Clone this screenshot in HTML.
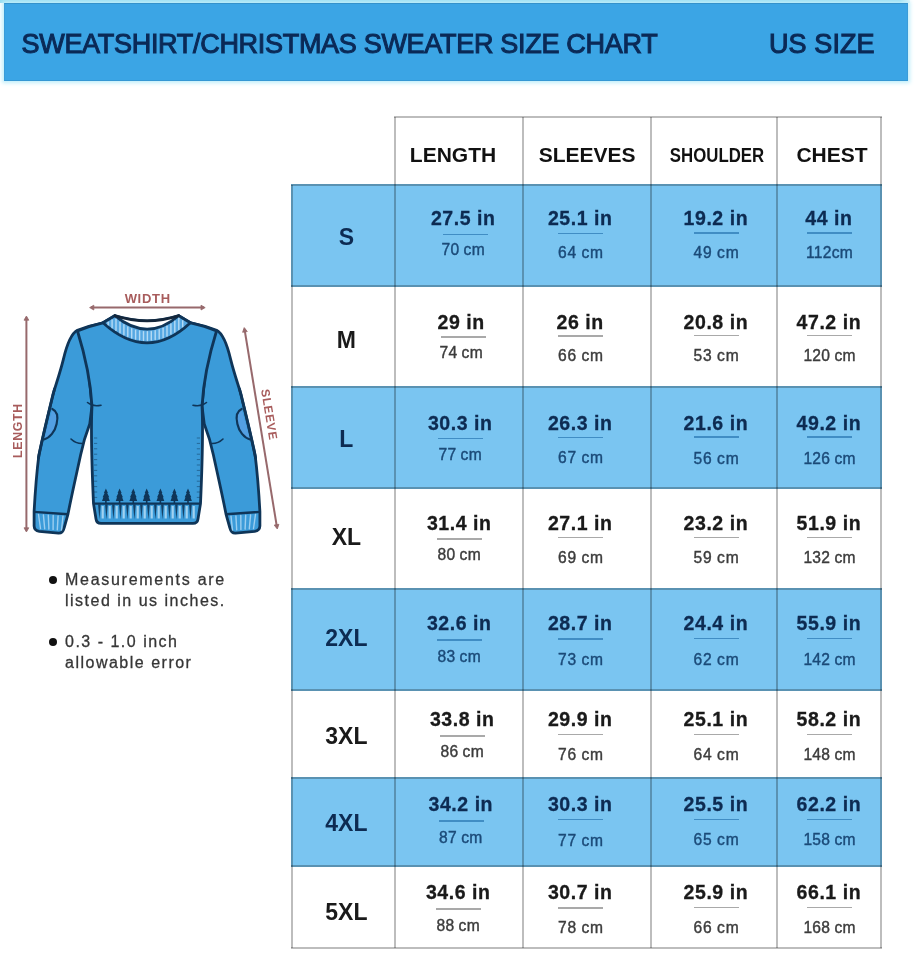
<!DOCTYPE html>
<html lang="en">
<head>
<meta charset="utf-8">
<title>Sweatshirt / Christmas Sweater Size Chart</title>
<style>
html,body{margin:0;padding:0;background:#fff;}
body{width:920px;height:960px;position:relative;overflow:hidden;font-family:"Liberation Sans",Arial,sans-serif;}
.abs{position:absolute;}
#soft{position:absolute;left:0;top:0;width:920px;height:960px;filter:blur(0.45px);}
.hdr{position:absolute;left:4px;top:3px;width:904px;height:78px;box-sizing:border-box;background:#3ba5e5;border-top:1.5px solid #3392cc;border-bottom:1.5px solid #3597d4;border-left:1px solid #3a9cd8;border-right:1px solid #3a9cd8;box-shadow:0 0 4px 2px #bfeefa;}
.topstrip{position:absolute;left:0;top:0;width:910px;height:3px;background:linear-gradient(90deg,#93dcf1 0,#93dcf1 900px,#e4f8fd 910px);}
.title{position:absolute;top:27.5px;height:32px;line-height:32px;font-size:27px;color:#0b2a57;white-space:nowrap;-webkit-text-stroke:1.05px #0b2a57;}
.blue{position:absolute;background:#7ac5f1;}
.vl,.hl{position:absolute;background:rgba(0,0,0,0.26);}
.th{position:absolute;top:141.8px;height:26px;line-height:26px;width:160px;text-align:center;font-weight:bold;font-size:21px;color:#111;white-space:nowrap;}
.sz{position:absolute;width:100px;height:30px;line-height:30px;text-align:center;font-weight:bold;font-size:23px;white-space:nowrap;}
.in{position:absolute;width:120px;height:24px;line-height:24px;text-align:center;font-weight:bold;font-size:19.5px;letter-spacing:0.55px;white-space:nowrap;-webkit-text-stroke:0.3px;}
.cm{position:absolute;width:120px;height:20px;line-height:20px;text-align:center;font-size:15.6px;letter-spacing:0.3px;word-spacing:-0.5px;white-space:nowrap;}
.rule{position:absolute;height:1.5px;width:45px;}
.w{color:#1a1a1a;} .b{color:#0d2b52;}
.cm.w{color:#3c3c3c;-webkit-text-stroke:0.4px #3c3c3c;} .cm.b{color:#1b4a78;-webkit-text-stroke:0.4px #1b4a78;}
.rule.w{background:#a9a9a9;} .rule.b{background:#408dc4;}
.note{position:absolute;left:65px;font-size:16px;letter-spacing:1.5px;color:#363636;-webkit-text-stroke:0.3px #363636;height:20px;line-height:20px;white-space:nowrap;}
.dot{position:absolute;width:8px;height:8px;border-radius:50%;background:#111;}
</style>
</head>
<body>
<div id="soft">
<div class="topstrip"></div>
<div class="hdr"></div>
<div class="title" style="left:21.5px;letter-spacing:-0.3px">SWEATSHIRT/CHRISTMAS SWEATER SIZE CHART</div>
<div class="title" style="left:769px;letter-spacing:0.1px">US SIZE</div>
<div class="blue" style="left:291px;top:184px;width:591px;height:102.5px"></div>
<div class="blue" style="left:291px;top:386px;width:591px;height:102.5px"></div>
<div class="blue" style="left:291px;top:588px;width:591px;height:102.5px"></div>
<div class="blue" style="left:291px;top:777px;width:591px;height:90px"></div>
<div class="hl" style="left:394px;top:115.5px;width:488px;height:2px"></div>
<div class="hl" style="left:291px;top:184px;width:591px;height:2px"></div>
<div class="hl" style="left:291px;top:284.5px;width:591px;height:2px"></div>
<div class="hl" style="left:291px;top:386px;width:591px;height:2px"></div>
<div class="hl" style="left:291px;top:486.5px;width:591px;height:2px"></div>
<div class="hl" style="left:291px;top:588px;width:591px;height:2px"></div>
<div class="hl" style="left:291px;top:688.5px;width:591px;height:2px"></div>
<div class="hl" style="left:291px;top:777px;width:591px;height:2px"></div>
<div class="hl" style="left:291px;top:865px;width:591px;height:2px"></div>
<div class="hl" style="left:291px;top:947px;width:591px;height:2px"></div>
<div class="vl" style="left:291px;top:185px;width:2px;height:763px"></div>
<div class="vl" style="left:394px;top:116.5px;width:2px;height:831.5px"></div>
<div class="vl" style="left:521.5px;top:116.5px;width:2px;height:831.5px"></div>
<div class="vl" style="left:650px;top:116.5px;width:2px;height:831.5px"></div>
<div class="vl" style="left:776px;top:116.5px;width:2px;height:831.5px"></div>
<div class="vl" style="left:880px;top:116.5px;width:2px;height:831.5px"></div>
<div class="th" style="left:373px;">LENGTH</div>
<div class="th" style="left:507.20000000000005px;">SLEEVES</div>
<div class="th" style="left:637.4px;transform:scaleX(0.80);">SHOULDER</div>
<div class="th" style="left:752px;">CHEST</div>
<div class="sz b" style="left:296.4px;top:222.2px">S</div>
<div class="in b" style="left:403.2px;top:205.7px">27.5 in</div>
<div class="rule b" style="left:443.0px;top:233.9px"></div>
<div class="cm b" style="left:403.2px;top:240.0px">70 cm</div>
<div class="in b" style="left:520.2px;top:205.7px">25.1 in</div>
<div class="rule b" style="left:558.0px;top:232.8px"></div>
<div class="cm b" style="left:520.9px;letter-spacing:0.8px;top:242.7px">64 cm</div>
<div class="in b" style="left:655.9px;top:205.7px">19.2 in</div>
<div class="rule b" style="left:693.6px;top:232.4px"></div>
<div class="cm b" style="left:656.5px;letter-spacing:0.8px;top:243.2px">49 cm</div>
<div class="in b" style="left:768.9px;top:205.7px">44 in</div>
<div class="rule b" style="left:806.6px;top:232.4px"></div>
<div class="cm b" style="left:769.6px;top:243.2px">112cm</div>
<div class="sz w" style="left:296.4px;top:324.9px">M</div>
<div class="in w" style="left:401.2px;top:309.7px">29 in</div>
<div class="rule w" style="left:441.0px;top:336.2px"></div>
<div class="cm w" style="left:401.2px;top:343.0px">74 cm</div>
<div class="in w" style="left:520.2px;top:309.7px">26 in</div>
<div class="rule w" style="left:558.0px;top:335.1px"></div>
<div class="cm w" style="left:520.9px;letter-spacing:0.8px;top:345.7px">66 cm</div>
<div class="in w" style="left:655.9px;top:309.7px">20.8 in</div>
<div class="rule w" style="left:693.6px;top:334.8px"></div>
<div class="cm w" style="left:656.5px;letter-spacing:0.8px;top:346.2px">53 cm</div>
<div class="in w" style="left:768.9px;top:309.7px">47.2 in</div>
<div class="rule w" style="left:806.6px;top:334.8px"></div>
<div class="cm w" style="left:769.6px;top:346.2px">120 cm</div>
<div class="sz b" style="left:296.4px;top:423.5px">L</div>
<div class="in b" style="left:400.2px;top:410.8px">30.3 in</div>
<div class="rule b" style="left:438.0px;top:437.8px"></div>
<div class="cm b" style="left:400.2px;top:445.4px">77 cm</div>
<div class="in b" style="left:520.2px;top:410.8px">26.3 in</div>
<div class="rule b" style="left:558.0px;top:436.6px"></div>
<div class="cm b" style="left:520.9px;letter-spacing:0.8px;top:448.1px">67 cm</div>
<div class="in b" style="left:655.9px;top:410.8px">21.6 in</div>
<div class="rule b" style="left:693.6px;top:436.2px"></div>
<div class="cm b" style="left:656.5px;letter-spacing:0.8px;top:448.6px">56 cm</div>
<div class="in b" style="left:768.9px;top:410.8px">49.2 in</div>
<div class="rule b" style="left:806.6px;top:436.2px"></div>
<div class="cm b" style="left:769.6px;top:448.6px">126 cm</div>
<div class="sz w" style="left:296.4px;top:522.0px">XL</div>
<div class="in w" style="left:399.2px;top:510.7px">31.4 in</div>
<div class="rule w" style="left:437.0px;top:538.0px"></div>
<div class="cm w" style="left:399.2px;top:545.0px">80 cm</div>
<div class="in w" style="left:520.2px;top:510.7px">27.1 in</div>
<div class="rule w" style="left:558.0px;top:536.8px"></div>
<div class="cm w" style="left:520.9px;letter-spacing:0.8px;top:547.7px">69 cm</div>
<div class="in w" style="left:655.9px;top:510.7px">23.2 in</div>
<div class="rule w" style="left:693.6px;top:536.5px"></div>
<div class="cm w" style="left:656.5px;letter-spacing:0.8px;top:548.2px">59 cm</div>
<div class="in w" style="left:768.9px;top:510.7px">51.9 in</div>
<div class="rule w" style="left:806.6px;top:536.5px"></div>
<div class="cm w" style="left:769.6px;top:548.2px">132 cm</div>
<div class="sz b" style="left:296.4px;top:623.0px">2XL</div>
<div class="in b" style="left:399.2px;top:611.4px">32.6 in</div>
<div class="rule b" style="left:437.0px;top:639.2px"></div>
<div class="cm b" style="left:399.2px;top:646.8px">83 cm</div>
<div class="in b" style="left:520.2px;top:611.4px">28.7 in</div>
<div class="rule b" style="left:558.0px;top:638.0px"></div>
<div class="cm b" style="left:520.9px;letter-spacing:0.8px;top:649.5px">73 cm</div>
<div class="in b" style="left:655.9px;top:611.4px">24.4 in</div>
<div class="rule b" style="left:693.6px;top:637.8px"></div>
<div class="cm b" style="left:656.5px;letter-spacing:0.8px;top:650.0px">62 cm</div>
<div class="in b" style="left:768.9px;top:611.4px">55.9 in</div>
<div class="rule b" style="left:806.6px;top:637.8px"></div>
<div class="cm b" style="left:769.6px;top:650.0px">142 cm</div>
<div class="sz w" style="left:296.4px;top:720.6px">3XL</div>
<div class="in w" style="left:402.2px;top:707.3px">33.8 in</div>
<div class="rule w" style="left:440.0px;top:735.0px"></div>
<div class="cm w" style="left:402.2px;top:742.0px">86 cm</div>
<div class="in w" style="left:520.2px;top:707.3px">29.9 in</div>
<div class="rule w" style="left:558.0px;top:733.8px"></div>
<div class="cm w" style="left:520.9px;letter-spacing:0.8px;top:744.7px">76 cm</div>
<div class="in w" style="left:655.9px;top:707.3px">25.1 in</div>
<div class="rule w" style="left:693.6px;top:733.5px"></div>
<div class="cm w" style="left:656.5px;letter-spacing:0.8px;top:745.2px">64 cm</div>
<div class="in w" style="left:768.9px;top:707.3px">58.2 in</div>
<div class="rule w" style="left:806.6px;top:733.5px"></div>
<div class="cm w" style="left:769.6px;top:745.2px">148 cm</div>
<div class="sz b" style="left:296.4px;top:807.5px">4XL</div>
<div class="in b" style="left:400.8px;top:792.4px">34.2 in</div>
<div class="rule b" style="left:438.5px;top:820.0px"></div>
<div class="cm b" style="left:400.8px;top:828.0px">87 cm</div>
<div class="in b" style="left:520.2px;top:792.4px">30.3 in</div>
<div class="rule b" style="left:558.0px;top:818.8px"></div>
<div class="cm b" style="left:520.9px;letter-spacing:0.8px;top:830.7px">77 cm</div>
<div class="in b" style="left:655.9px;top:792.4px">25.5 in</div>
<div class="rule b" style="left:693.6px;top:818.5px"></div>
<div class="cm b" style="left:656.5px;letter-spacing:0.8px;top:830.0px">65 cm</div>
<div class="in b" style="left:768.9px;top:792.4px">62.2 in</div>
<div class="rule b" style="left:806.6px;top:818.5px"></div>
<div class="cm b" style="left:769.6px;top:830.0px">158 cm</div>
<div class="sz w" style="left:296.4px;top:896.5px">5XL</div>
<div class="in w" style="left:398.2px;top:880.0px">34.6 in</div>
<div class="rule w" style="left:436.0px;top:908.2px"></div>
<div class="cm w" style="left:398.2px;top:915.5px">88 cm</div>
<div class="in w" style="left:520.2px;top:880.0px">30.7 in</div>
<div class="rule w" style="left:558.0px;top:907.0px"></div>
<div class="cm w" style="left:520.9px;letter-spacing:0.8px;top:918.2px">78 cm</div>
<div class="in w" style="left:655.9px;top:880.0px">25.9 in</div>
<div class="rule w" style="left:693.6px;top:906.8px"></div>
<div class="cm w" style="left:656.5px;letter-spacing:0.8px;top:917.5px">66 cm</div>
<div class="in w" style="left:768.9px;top:880.0px">66.1 in</div>
<div class="rule w" style="left:806.6px;top:906.8px"></div>
<div class="cm w" style="left:769.6px;top:917.5px">168 cm</div>
<div class="dot" style="left:49.4px;top:575.7px"></div>
<div class="note" style="top:570px;letter-spacing:1.72px">Measurements are</div>
<div class="note" style="top:590.7px">listed in us inches.</div>
<div class="dot" style="left:49.4px;top:637.7px"></div>
<div class="note" style="top:632.2px">0.3 - 1.0 inch</div>
<div class="note" style="top:652.8px">allowable error</div>
<svg class="abs" style="left:0px;top:280px" width="290" height="270" viewBox="0 280 290 270">
<g stroke="#97696c" stroke-width="2" fill="none" stroke-linecap="butt">
<path d="M91,307.6 H204"/>
<path d="M244.5,329 L277,527.5"/>
<path d="M26.4,317.5 V530.5"/>
</g>
<g fill="#97696c" stroke="#97696c" stroke-width="0.8" stroke-linejoin="round">
<path d="M89.6,307.6 L93.8,305.2 L93.8,310 Z"/><path d="M205.2,307.6 L201,305.2 L201,310 Z"/>
<path d="M26.4,316 L24,320.2 L28.8,320.2 Z"/><path d="M26.4,532 L24,527.8 L28.8,527.8 Z"/>
<path d="M244.2,327.6 L242.6,332.3 L247.3,331.5 Z"/><path d="M277.3,529 L274.2,525.1 L278.9,524.3 Z"/>
</g>
<g font-family="Liberation Sans, Arial, sans-serif" font-weight="bold" font-size="13" fill="#a85c5c" text-anchor="middle" letter-spacing="0.7">
<text x="147.7" y="303.3">WIDTH</text>
<text transform="translate(22.4,430.6) rotate(-90)" font-size="12.3">LENGTH</text>
<text transform="translate(265.2,415.3) rotate(80.7)" font-size="12">SLEEVE</text>
</g>
<g fill="#3b9bd9" stroke="#0f3558" stroke-width="2.8" stroke-linejoin="round" stroke-linecap="round">
<path d="M104,322.6 Q90,325.5 77.4,330.2 C70,334 66,348 63.3,359.6 C60,373 56,384 52.8,395 C48,415 42.5,437 38.9,455 C36.5,474 35,495 34.1,511.7 L34.1,526 Q34.3,530.6 39.3,531.3 L58.5,533.2 Q62.8,533.4 64.1,528 L68,514 C71.5,496 76.5,474 80.6,455 C82,448 84.1,438.5 89.8,423.7 L92,406 L88,365 L80,331 Z"/>
<path d="M 190.0,322.6 Q 204.0,325.5 216.6,330.2 C 224.0,334 228.0,348 230.7,359.6 C 234.0,373 238.0,384 241.2,395 C 246.0,415 251.5,437 255.1,455 C 257.5,474 259.0,495 259.9,511.7 L 259.9,526 Q 259.7,530.6 254.7,531.3 L 235.5,533.2 Q 231.2,533.4 229.9,528 L 226.0,514 C 222.5,496 217.5,474 213.4,455 C 212.0,448 209.9,438.5 204.2,423.7 L 202.0,406 L 206.0,365 L 214.0,331 Z"/>
<path d="M103,322.8 L114.8,315.7 Q147.4,326 178.7,315.7 L190.4,322.8 Q205,326 216.5,331 C210,352 203.5,380 202,406 C203,425 202,470 200.5,503.5 L198,519 Q197.4,523.3 193,523.4 L101,523.4 Q96.6,523.3 96,519 L93.5,503.5 C92,470 91,425 92,406 C90.5,380 84,352 77.5,331 Q89,326 103,322.8 Z"/>
</g>
<g fill="#539fe2" stroke="#0f3558" stroke-width="2.2" stroke-linecap="round">
<path d="M52.3,409 C58,411.5 57.8,419 56.6,424 C55,431.5 50,437.8 43.9,439.5"/>
<path d="M 241.7,409 C 236.0,411.5 236.2,419 237.4,424 C 239.0,431.5 244.0,437.8 250.1,439.5"/>
</g>
<g fill="none" stroke="#0f3558" stroke-width="2.8" stroke-linecap="round">
<path d="M54.5,389 C49,411 43,436 38.4,458"/>
<path d="M 239.5,389 C 245.0,411 251.0,436 255.6,458"/>
</g>
<g fill="none" stroke="#0f3558" stroke-width="1.6" stroke-linecap="round">
<path d="M87.5,402.5 Q93,407 101,405.2"/><path d="M 206.5,402.5 Q 201.0,407 193.0,405.2"/>
<path d="M71,439 Q75.5,443.5 82,443.5"/><path d="M 223.0,439 Q 218.5,443.5 212.0,443.5"/>
</g>
<g stroke="#0f3558" stroke-width="0.9" opacity="0.55">
<path d="M94,438.0 h3.2 M200,438.0 h-3.2"/>
<path d="M94,443.4 h3.2 M200,443.4 h-3.2"/>
<path d="M94,448.8 h3.2 M200,448.8 h-3.2"/>
<path d="M94,454.2 h3.2 M200,454.2 h-3.2"/>
<path d="M94,459.6 h3.2 M200,459.6 h-3.2"/>
<path d="M94,465.0 h3.2 M200,465.0 h-3.2"/>
<path d="M94,470.4 h3.2 M200,470.4 h-3.2"/>
<path d="M94,475.8 h3.2 M200,475.8 h-3.2"/>
<path d="M94,481.2 h3.2 M200,481.2 h-3.2"/>
<path d="M94,486.6 h3.2 M200,486.6 h-3.2"/>
<path d="M94,492.0 h3.2 M200,492.0 h-3.2"/>
<path d="M94,497.4 h3.2 M200,497.4 h-3.2"/>
</g>
<path d="M116,316.3 Q147.4,326 177.5,316.3 Q147.4,342 116,316.3 Z" fill="#ffffff"/>
<path d="M103,322.8 L114.8,315.7 Q147.4,342.5 178.7,315.7 L190.4,322.8 Q147.4,363 103,322.8 Z" fill="#56a8e2" stroke="#0f3558" stroke-width="2.8" stroke-linejoin="round"/>
<g stroke="#bfe0f7" stroke-width="1.4" stroke-linecap="round" opacity="0.9">
<path d="M108.2,322.3 V324.7"/>
<path d="M112.1,319.9 V327.7"/>
<path d="M116.0,319.3 V330.4"/>
<path d="M120.0,322.3 V332.8"/>
<path d="M123.9,324.8 V334.8"/>
<path d="M127.8,327.0 V336.5"/>
<path d="M131.7,328.7 V337.9"/>
<path d="M135.6,330.1 V339.0"/>
<path d="M139.6,331.0 V339.8"/>
<path d="M143.5,331.6 V340.2"/>
<path d="M147.4,331.7 V340.3"/>
<path d="M151.3,331.4 V340.1"/>
<path d="M155.2,330.8 V339.5"/>
<path d="M159.2,329.7 V338.7"/>
<path d="M163.1,328.2 V337.5"/>
<path d="M167.0,326.3 V336.0"/>
<path d="M170.9,324.0 V334.1"/>
<path d="M174.8,321.3 V332.0"/>
<path d="M178.8,318.3 V329.5"/>
<path d="M182.7,320.7 V326.7"/>
</g>
<path d="M114.8,315.7 Q147.4,326 178.7,315.7" fill="none" stroke="#14263a" stroke-width="2.6" stroke-linecap="round"/>
<path d="M93.8,503.6 H200.2" stroke="#0f3558" stroke-width="2.4" fill="none"/>
<g>
<path d="M98.1,504.5 L100.7,504.5 L99.4,519.5 Z" fill="#0f3558" opacity="0.9"/>
<path d="M102.7,506 v12.5" stroke="#b4dcf6" stroke-width="2.2" opacity="0.85"/>
<path d="M105.1,504.5 L107.7,504.5 L106.4,519.5 Z" fill="#0f3558" opacity="0.9"/>
<path d="M109.7,506 v12.5" stroke="#b4dcf6" stroke-width="2.2" opacity="0.85"/>
<path d="M112.1,504.5 L114.7,504.5 L113.4,519.5 Z" fill="#0f3558" opacity="0.9"/>
<path d="M116.7,506 v12.5" stroke="#b4dcf6" stroke-width="2.2" opacity="0.85"/>
<path d="M119.1,504.5 L121.7,504.5 L120.4,519.5 Z" fill="#0f3558" opacity="0.9"/>
<path d="M123.7,506 v12.5" stroke="#b4dcf6" stroke-width="2.2" opacity="0.85"/>
<path d="M126.1,504.5 L128.7,504.5 L127.4,519.5 Z" fill="#0f3558" opacity="0.9"/>
<path d="M130.7,506 v12.5" stroke="#b4dcf6" stroke-width="2.2" opacity="0.85"/>
<path d="M133.1,504.5 L135.7,504.5 L134.4,519.5 Z" fill="#0f3558" opacity="0.9"/>
<path d="M137.7,506 v12.5" stroke="#b4dcf6" stroke-width="2.2" opacity="0.85"/>
<path d="M140.1,504.5 L142.7,504.5 L141.4,519.5 Z" fill="#0f3558" opacity="0.9"/>
<path d="M144.7,506 v12.5" stroke="#b4dcf6" stroke-width="2.2" opacity="0.85"/>
<path d="M147.1,504.5 L149.7,504.5 L148.4,519.5 Z" fill="#0f3558" opacity="0.9"/>
<path d="M151.7,506 v12.5" stroke="#b4dcf6" stroke-width="2.2" opacity="0.85"/>
<path d="M154.1,504.5 L156.7,504.5 L155.4,519.5 Z" fill="#0f3558" opacity="0.9"/>
<path d="M158.7,506 v12.5" stroke="#b4dcf6" stroke-width="2.2" opacity="0.85"/>
<path d="M161.1,504.5 L163.7,504.5 L162.4,519.5 Z" fill="#0f3558" opacity="0.9"/>
<path d="M165.7,506 v12.5" stroke="#b4dcf6" stroke-width="2.2" opacity="0.85"/>
<path d="M168.1,504.5 L170.7,504.5 L169.4,519.5 Z" fill="#0f3558" opacity="0.9"/>
<path d="M172.7,506 v12.5" stroke="#b4dcf6" stroke-width="2.2" opacity="0.85"/>
<path d="M175.1,504.5 L177.7,504.5 L176.4,519.5 Z" fill="#0f3558" opacity="0.9"/>
<path d="M179.7,506 v12.5" stroke="#b4dcf6" stroke-width="2.2" opacity="0.85"/>
<path d="M182.1,504.5 L184.7,504.5 L183.4,519.5 Z" fill="#0f3558" opacity="0.9"/>
<path d="M186.7,506 v12.5" stroke="#b4dcf6" stroke-width="2.2" opacity="0.85"/>
<path d="M189.1,504.5 L191.7,504.5 L190.4,519.5 Z" fill="#0f3558" opacity="0.9"/>
<path d="M193.7,506 v12.5" stroke="#b4dcf6" stroke-width="2.2" opacity="0.85"/>
</g>
<g fill="#0f3558">
<path d="M105.9,488.6 l2.0,4.4 h-0.7 l2.0,4.2 h-0.8 l1.4,3.8 h-7.8 l1.4,-3.8 h-0.8 l2.0,-4.2 h-0.7 Z"/>
<rect x="105.1" y="500.2" width="1.6" height="3"/>
<path d="M119.6,488.6 l2.0,4.4 h-0.7 l2.0,4.2 h-0.8 l1.4,3.8 h-7.8 l1.4,-3.8 h-0.8 l2.0,-4.2 h-0.7 Z"/>
<rect x="118.8" y="500.2" width="1.6" height="3"/>
<path d="M133.3,488.6 l2.0,4.4 h-0.7 l2.0,4.2 h-0.8 l1.4,3.8 h-7.8 l1.4,-3.8 h-0.8 l2.0,-4.2 h-0.7 Z"/>
<rect x="132.5" y="500.2" width="1.6" height="3"/>
<path d="M146.7,488.6 l2.0,4.4 h-0.7 l2.0,4.2 h-0.8 l1.4,3.8 h-7.8 l1.4,-3.8 h-0.8 l2.0,-4.2 h-0.7 Z"/>
<rect x="145.9" y="500.2" width="1.6" height="3"/>
<path d="M160.4,488.6 l2.0,4.4 h-0.7 l2.0,4.2 h-0.8 l1.4,3.8 h-7.8 l1.4,-3.8 h-0.8 l2.0,-4.2 h-0.7 Z"/>
<rect x="159.6" y="500.2" width="1.6" height="3"/>
<path d="M174.4,488.6 l2.0,4.4 h-0.7 l2.0,4.2 h-0.8 l1.4,3.8 h-7.8 l1.4,-3.8 h-0.8 l2.0,-4.2 h-0.7 Z"/>
<rect x="173.6" y="500.2" width="1.6" height="3"/>
<path d="M188.0,488.6 l2.0,4.4 h-0.7 l2.0,4.2 h-0.8 l1.4,3.8 h-7.8 l1.4,-3.8 h-0.8 l2.0,-4.2 h-0.7 Z"/>
<rect x="187.2" y="500.2" width="1.6" height="3"/>
</g>
<path d="M34.1,511.9 L68,514.3" stroke="#0f3558" stroke-width="2.4" fill="none"/>
<path d="M259.9,511.9 L226,514.3" stroke="#0f3558" stroke-width="2.4" fill="none"/>
<g stroke="#a6d4f3" stroke-width="1.4" opacity="0.9" stroke-linecap="round">
<path d="M38.5,514.5 L40.5,528.5"/>
<path d="M255.5,514.5 L253.5,528.5"/>
<path d="M43.4,514.9 L44.7,528.8"/>
<path d="M250.6,514.9 L249.3,528.8"/>
<path d="M48.3,515.2 L48.9,529.1"/>
<path d="M245.7,515.2 L245.1,529.1"/>
<path d="M53.2,515.5 L53.1,529.4"/>
<path d="M240.8,515.5 L240.9,529.4"/>
<path d="M58.1,515.9 L57.3,529.7"/>
<path d="M235.9,515.9 L236.7,529.7"/>
<path d="M63.0,516.2 L61.5,530.0"/>
<path d="M231.0,516.2 L232.5,530.0"/>
</g>
</svg>
</div>
</body>
</html>
